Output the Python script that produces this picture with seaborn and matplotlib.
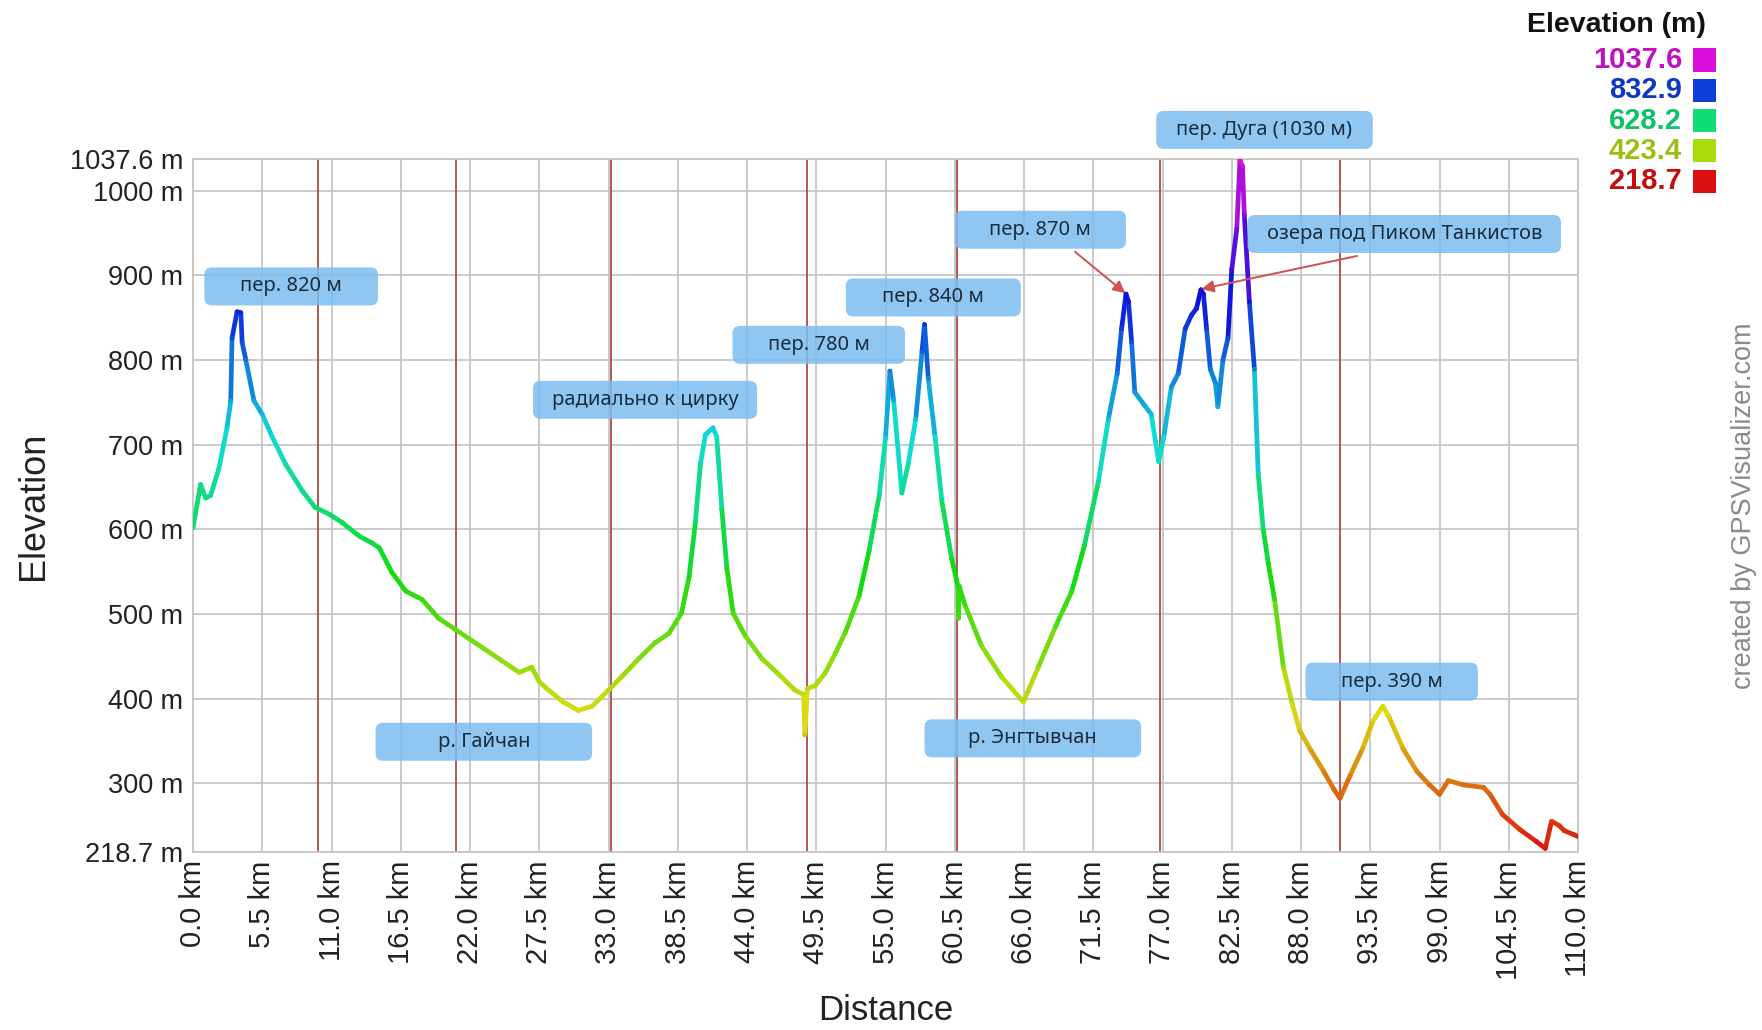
import numpy as np
import pandas as pd
import matplotlib
matplotlib.use("Agg")
import matplotlib.pyplot as plt
import seaborn as sns
from matplotlib.collections import LineCollection
from matplotlib.colors import ListedColormap, Normalize, hsv_to_rgb
from matplotlib.patches import FancyBboxPatch, Rectangle

# ---------------- data ----------------
distance_km = [0, 0.6, 1.0, 1.4, 2.06, 2.7, 3.0, 3.1, 3.5, 3.8, 3.9, 4.2, 4.84, 5.5, 6.3,
               7.35, 8.7, 9.7, 10.8, 11.85, 13.2, 14.2, 14.8, 15.8, 16.9, 18.2, 19.5, 20.8,
               21.9, 23.2, 24.5, 25.9, 26.9, 27.5, 28.0, 29.3, 30.6, 31.7, 33.0, 34.06,
               35.4, 36.7, 37.8, 38.8, 39.4, 39.9, 40.3, 40.7, 41.3, 41.6, 42.0, 42.4, 42.9,
               43.86, 45.2, 46.5, 47.8, 48.5, 48.6, 48.8, 49.4, 50.2, 51.0, 51.8, 52.9,
               53.7, 54.5, 55.0, 55.35, 55.65, 56.3, 56.8, 57.4, 57.9, 58.1, 58.4, 58.94,
               59.47, 60.26, 60.75, 60.8, 60.85, 61.3, 62.6, 64.2, 65.95, 67.1, 68.5, 69.8,
               70.8, 71.9, 72.7, 73.4, 73.75, 74.1, 74.3, 74.55, 74.8, 75.6, 76.1, 76.7,
               77.1, 77.7, 78.25, 78.8, 79.3, 79.7, 80.05, 80.25, 80.5, 80.8, 81.2, 81.4,
               81.8, 82.2, 82.5, 82.9, 83.15, 83.35, 83.5, 83.9, 84.3, 84.6, 85.0, 85.4,
               85.9, 86.6, 87.3, 87.9, 88.7, 89.8, 90.6, 91.1, 91.9, 92.9, 93.7, 94.5, 95.0,
               96.1, 97.2, 98.2, 99.0, 99.7, 100.9, 102.5, 103.0, 104.0, 105.4, 106.7,
               107.4, 107.9, 108.5, 108.9, 109.7, 110.0]
elevation_m = [602, 653, 637, 640, 672, 720, 752, 826, 857, 856, 821, 800, 752, 736, 709,
               677, 645, 626, 618, 608, 592, 584, 578, 549, 527, 517, 495, 482,
               471, 458, 445, 431, 437, 420, 413, 397, 386, 391, 410, 426,
               447, 466, 477, 501, 544, 608, 677, 712, 720, 709, 624, 554, 501,
               474, 447, 429, 410, 405, 357, 412, 415, 430, 453, 478, 521,
               575, 640, 708, 787, 752, 643, 677, 730, 810, 842, 778, 709,
               634, 565, 533, 495, 533, 511, 463, 426, 396, 436, 485, 527,
               581, 656, 730, 784, 837, 878, 869, 821, 762, 746, 736, 680,
               709, 768, 784, 837, 853, 861, 883, 878, 837, 789, 773, 745,
               800, 826, 907, 955, 1036, 1029, 971, 869, 789, 666, 600, 560,
               517, 437, 394, 362, 341, 314, 293, 282, 309, 341, 373, 391, 378,
               341, 314, 298, 287, 303, 298, 295, 287, 263, 245, 231,
               223, 255, 250, 244, 239, 237]

day_breaks_km = [9.9, 20.9, 33.2, 48.8, 60.7, 76.8, 91.1]

x_ticks_km = [round(5.5 * i, 1) for i in range(21)]
x_tick_labels = [f"{v:.1f} km" for v in x_ticks_km]
y_ticks_m = [218.7, 300, 400, 500, 600, 700, 800, 900, 1000, 1037.6]
y_tick_labels = ["218.7 m", "300 m", "400 m", "500 m", "600 m", "700 m",
                 "800 m", "900 m", "1000 m", "1037.6 m"]

legend_values = [1037.6, 832.9, 628.2, 423.4, 218.7]

annotation_texts = ["пер. 820 м", "радиально к цирку", "пер. 780 м", "пер. 840 м",
                    "пер. 870 м", "пер. Дуга (1030 м)", "озера под Пиком Танкистов",
                    "р. Гайчан", "р. Энгтывчан", "пер. 390 м"]
annotation_km = [7.8, 35.9, 49.7, 58.8, 67.3, 85.1, 96.2, 23.1, 66.7, 95.2]
annotation_elev = [887, 753, 818, 874, 954, 1072, 949, 349, 353, 420]
annotation_box_km = [13.8, 17.8, 13.7, 13.9, 13.6, 17.2, 24.9, 17.2, 17.2, 13.7]

arrow_from = [(70.05, 928), (92.45, 923)]
arrow_to = [(74.05, 879), (80.1, 884)]

# ---------------- style ----------------
sns.set_theme(style="white")
plt.rcParams["font.family"] = ["Liberation Sans", "DejaVu Sans"]

ymin, ymax = 218.7, 1037.6
hues = np.linspace(0, 300 / 360, 256)
cmap = ListedColormap(hsv_to_rgb(np.column_stack([hues, np.full(256, 0.93), np.full(256, 0.86)])))
norm = Normalize(ymin, ymax)

W, H = 1762, 1030
fig = plt.figure(figsize=(W / 100, H / 100), dpi=100)
ax = fig.add_axes([193 / W, 1 - 852 / H, 1385 / W, 693 / H])

df = pd.DataFrame({"km": distance_km, "elev": elevation_m})

# gradient line
pts = df[["km", "elev"]].to_numpy()
segs = np.stack([pts[:-1], pts[1:]], axis=1)
seg_val = (pts[:-1, 1] + pts[1:, 1]) / 2
lc = LineCollection(segs, cmap=cmap, norm=norm, linewidths=3.4, capstyle="round",
                    joinstyle="round", zorder=4)
lc.set_array(seg_val)
ax.add_collection(lc)
sns.scatterplot(data=df, x="km", y="elev", hue="elev", palette=cmap, hue_norm=norm,
                s=10, linewidth=0, legend=False, ax=ax, zorder=5)

for d in day_breaks_km:
    ax.axvline(d, color="#a94a4a", lw=1.3, zorder=2)

ax.set_xlim(0, 110)
ax.set_ylim(ymin, ymax)
ax.set_xticks(x_ticks_km)
ax.set_xticklabels(x_tick_labels, rotation=90, fontsize=21, color="#222222")
ax.set_yticks(y_ticks_m)
ax.set_yticklabels(y_tick_labels, fontsize=19.5, color="#222222")
ax.tick_params(axis="both", length=0)
ax.tick_params(axis="x", pad=6)
ax.tick_params(axis="y", pad=7)
ax.grid(True, color="#c6c6c6", lw=1.3, zorder=1)
ax.set_axisbelow(True)
for sp in ax.spines.values():
    sp.set_color("#c6c6c6")
    sp.set_linewidth(1.3)

ax.set_xlabel("Distance", fontsize=25, color="#222222")
ax.set_ylabel("Elevation", fontsize=26, color="#222222")
ax.xaxis.set_label_coords(0.5, -0.229)
ax.xaxis.label.set_va("center")
ax.yaxis.set_label_coords((34 - 193) / 1385, 0.5)
ax.yaxis.label.set_va("center")

# annotation boxes
box_h = 44.9
r = 0.6
asp = 8.9 / r
for txt, xk, ye, wk in zip(annotation_texts, annotation_km, annotation_elev, annotation_box_km):
    p = FancyBboxPatch((xk - wk / 2, ye - box_h / 2), wk, box_h,
                       boxstyle=f"round,pad=0,rounding_size={r}", mutation_aspect=asp,
                       fc="#7cbdf0", ec="none", alpha=0.85, clip_on=False, zorder=6)
    ax.add_patch(p)
    ax.text(xk, ye, txt, ha="center", va="center", fontsize=14.5, color="#1c2b3a",
            family=["Noto Sans", "DejaVu Sans"], zorder=7, clip_on=False)

for (x0, y0), (x1, y1) in zip(arrow_from, arrow_to):
    ax.annotate("", xy=(x1, y1), xytext=(x0, y0),
                arrowprops=dict(arrowstyle="-|>,head_length=0.6,head_width=0.3",
                                color="#d25050", lw=1.4, shrinkA=0, shrinkB=0), zorder=8)

# legend
fig.text(1616 / W, 1 - 25 / H, "Elevation (m)", ha="center", va="center",
         fontsize=20.5, fontweight="bold", color="#111111")
for i, v in enumerate(legend_values):
    yc = 60 + 30.3 * i
    col = cmap(norm(v))
    txt_col = tuple(c * 0.88 for c in col[:3])
    fig.text(1682 / W, 1 - yc / H, f"{v:.1f}", ha="right", va="center",
             fontsize=21, fontweight="bold", color=txt_col)
    fig.add_artist(Rectangle((1693 / W, 1 - (yc + 11.5) / H), 23 / W, 23 / H,
                             transform=fig.transFigure, color=col, lw=0))

fig.text(1744 / W, 1 - 506 / H, "created by GPSVisualizer.com", rotation=90,
         ha="center", va="center", fontsize=19.5, color="#8a8a8a")

fig.savefig("out.png", dpi=100, facecolor="white")
